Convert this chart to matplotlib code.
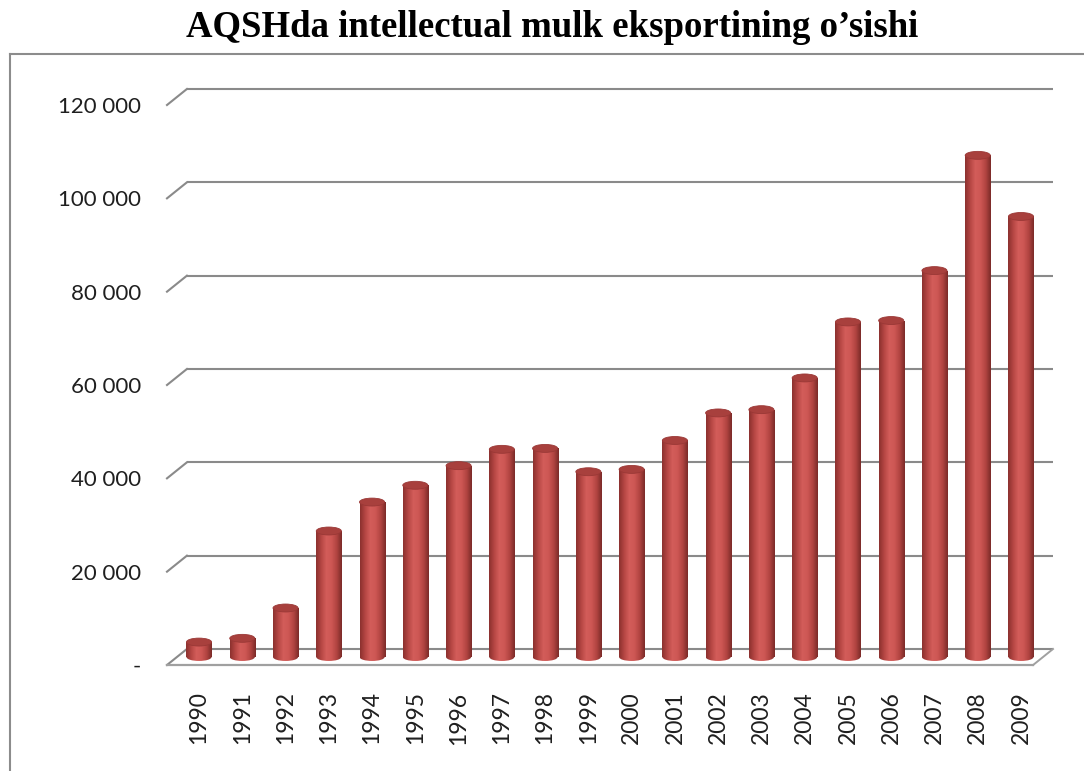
import numpy as np
import matplotlib
matplotlib.use("Agg")
import matplotlib.pyplot as plt
from matplotlib.patches import Rectangle, Ellipse
from matplotlib.colors import LinearSegmentedColormap

# ---------------- data ----------------
years = ["1990", "1991", "1992", "1993", "1994", "1995", "1996", "1997", "1998", "1999",
         "2000", "2001", "2002", "2003", "2004", "2005", "2006", "2007", "2008", "2009"]
values = [3200, 4000, 10500, 27000, 33200, 36800, 41000, 44500, 44700, 39700,
          40200, 46400, 52300, 53000, 59800, 71800, 72100, 82800, 107500, 94400]
y_ticks = [0, 20000, 40000, 60000, 80000, 100000, 120000]
y_tick_labels = ["-", "20 000", "40 000", "60 000", "80 000", "100 000", "120 000"]
title = "AQSHda intellectual mulk eksportining o\u2019sishi"

# ---------------- style / geometry ----------------
W, H = 1084, 771
DX = 0.46          # depth offset in category units
DY = 3430          # depth offset in value units
BAR_W = 0.58
ELL_H = 1700
GRID_C = "#8a8a8a"

fig = plt.figure(figsize=(W / 100, H / 100), dpi=100)
fig.patch.set_facecolor("white")

left_px, right_px, bottom_px, top_px = 167, 1053, 665, 69
ax = fig.add_axes([left_px / W, 1 - bottom_px / H, (right_px - left_px) / W, (bottom_px - top_px) / H])
n = len(years)
x = np.arange(n)
xmin, xmax = -0.5 - DX / 2 - 0.01, n - 0.5 + DX / 2 + 0.01
ymin, ymax = -DY / 2, 126000

for s in ax.spines.values():
    s.set_visible(False)
ax.set_facecolor("none")

# walls / gridlines
for t in y_ticks:
    ax.plot([xmin + DX, xmax], [t + DY / 2, t + DY / 2], color=GRID_C, lw=1.5, zorder=1, clip_on=False,
            solid_capstyle="butt")
    ax.plot([xmin, xmin + DX], [t - DY / 2, t + DY / 2], color=GRID_C, lw=1.5, zorder=1, clip_on=False)
# floor
ax.plot([xmin, xmax - DX], [-DY / 2, -DY / 2], color="#a0a0a0", lw=1.6, zorder=1, clip_on=False)
ax.plot([xmax - DX, xmax], [-DY / 2, DY / 2], color="#a0a0a0", lw=1.4, zorder=1, clip_on=False)

# cylinders
cmap = LinearSegmentedColormap.from_list(
    "cyl", ["#8a302e", "#b54643", "#d35d5a", "#cd5754", "#b14441", "#7a2a28"], N=256)
grad = np.linspace(0, 1, 256).reshape(1, -1)
for i, v in enumerate(values):
    x0, x1 = i - BAR_W / 2, i + BAR_W / 2
    rect = Rectangle((x0, 0), BAR_W, v, transform=ax.transData, facecolor="none", edgecolor="none")
    ax.add_patch(rect)
    im = ax.imshow(grad, cmap=cmap, extent=[x0, x1, 0, v], aspect="auto", zorder=3,
                   interpolation="bilinear")
    im.set_clip_path(rect)
    bot = Ellipse((i, 0), BAR_W, ELL_H, transform=ax.transData, facecolor="none", edgecolor="none")
    ax.add_patch(bot)
    im2 = ax.imshow(grad, cmap=cmap, extent=[x0, x1, -ELL_H / 2, 0], aspect="auto", zorder=3,
                    interpolation="bilinear")
    im2.set_clip_path(bot)
    top = Ellipse((i, v), BAR_W, ELL_H, facecolor="#a8403d", edgecolor="#9a3836", lw=0.6, zorder=4)
    ax.add_patch(top)

ax.set_xlim(xmin, xmax)
ax.set_ylim(ymin, ymax)
ax.set_aspect("auto")

# ticks
ax.set_yticks(np.array(y_ticks) - DY / 2)
ax.set_yticklabels(y_tick_labels)
ax.set_xticks(x)
ax.set_xticklabels(years, rotation=90, va="top", ha="center")
ax.tick_params(axis="y", length=0, pad=18.5, labelsize=16, labelcolor="#1f1f1f")
ax.tick_params(axis="x", length=0, pad=19, labelsize=16.5, labelcolor="#1f1f1f")
for lab in ax.get_yticklabels() + ax.get_xticklabels():
    lab.set_family("Lato")

# outer frame
fig.add_artist(plt.Line2D([10 / W, 10 / W], [0, 1 - 54 / H], transform=fig.transFigure,
                          color="#8c8c8c", lw=1.5))
fig.add_artist(plt.Line2D([10 / W, 1], [1 - 54 / H, 1 - 54 / H], transform=fig.transFigure,
                          color="#8c8c8c", lw=1.5))

fig.text(552 / W, 1 - 37 / H, title, ha="center", va="baseline", fontsize=26.5,
         fontweight="bold", family="Liberation Serif")

fig.savefig("out.png", dpi=100, facecolor="white")
